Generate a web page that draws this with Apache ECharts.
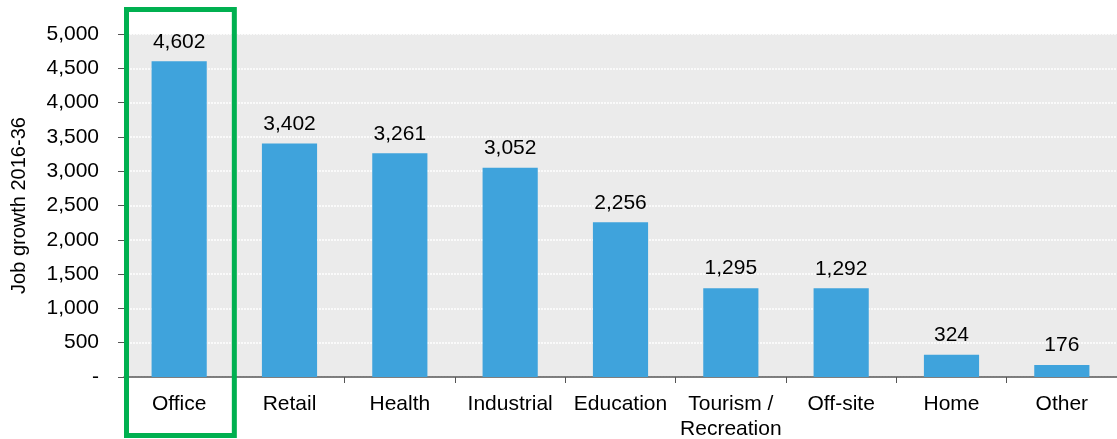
<!DOCTYPE html>
<html>
<head>
<meta charset="utf-8">
<script src="https://cdn.jsdelivr.net/npm/echarts@6/dist/echarts.min.js"></script>
<style>
  html, body { margin: 0; padding: 0; background: #fff; }
  #main { width: 1117px; height: 439px; }
</style>
</head>
<body>
<div id="main"></div>
<script>
// job growth by category, 2016-36
const categories = ['Office', 'Retail', 'Health', 'Industrial', 'Education', 'Tourism /\nRecreation', 'Off-site', 'Home', 'Other']
const jobGrowth = [4602, 3402, 3261, 3052, 2256, 1295, 1292, 324, 176]
const yTicks = [0, 500, 1000, 1500, 2000, 2500, 3000, 3500, 4000, 4500, 5000]
const highlighted = 'Office'

const font = 'Liberation Sans, Arial, sans-serif'
const fmt = v => (v === 0 ? '-' : v.toLocaleString('en-US'))

const chart = echarts.init(document.getElementById('main'))
chart.setOption({
  animation: false,
  grid: {
    left: 124,
    right: 0,
    top: 34,
    bottom: 62,
    outerBoundsMode: 'none',
    containLabel: false,
    show: true,
    backgroundColor: '#ebebeb',
    borderWidth: 0
  },
  xAxis: {
    type: 'category',
    data: categories,
    axisLine: { lineStyle: { color: '#555', width: 1.5 } },
    axisTick: { show: true, length: 6, lineStyle: { color: '#555' } },
    axisLabel: {
      color: '#000',
      fontFamily: font,
      fontSize: 21,
      margin: 15,
      lineHeight: 25,
      interval: 0
    }
  },
  yAxis: {
    type: 'value',
    min: yTicks[0],
    max: yTicks[yTicks.length - 1],
    interval: 500,
    name: 'Job growth 2016-36',
    nameLocation: 'middle',
    nameGap: 95,
    nameTextStyle: { color: '#000', fontFamily: font, fontSize: 20 },
    axisLine: { show: true, lineStyle: { color: '#555' } },
    axisTick: { show: true, inside: false, length: 6, lineStyle: { color: '#555' } },
    axisLabel: {
      color: '#000',
      fontFamily: font,
      fontSize: 21,
      margin: 25,
      formatter: fmt
    },
    splitLine: { lineStyle: { color: '#fff', type: [2, 1], width: 1.5 } }
  },
  series: [
    {
      type: 'bar',
      data: jobGrowth,
      barWidth: '50%',
      itemStyle: { color: '#3fa3dc' },
      label: {
        show: true,
        position: 'top',
        distance: 9,
        color: '#000',
        fontFamily: font,
        fontSize: 21,
        formatter: p => fmt(p.value)
      }
    }
  ]
})

// green box around the highlighted category
const idx = categories.indexOf(highlighted)
const cx = chart.convertToPixel({ xAxisIndex: 0 }, idx)
const band = (1117 - 124) / categories.length
chart.setOption({
  graphic: [
    {
      type: 'rect',
      shape: { x: cx - band / 2 + 2.5, y: 9.5, width: band - 2.5, height: 426 },
      style: { fill: 'none', stroke: '#00b050', lineWidth: 5 },
      z: 100
    }
  ]
})
</script>
</body>
</html>
